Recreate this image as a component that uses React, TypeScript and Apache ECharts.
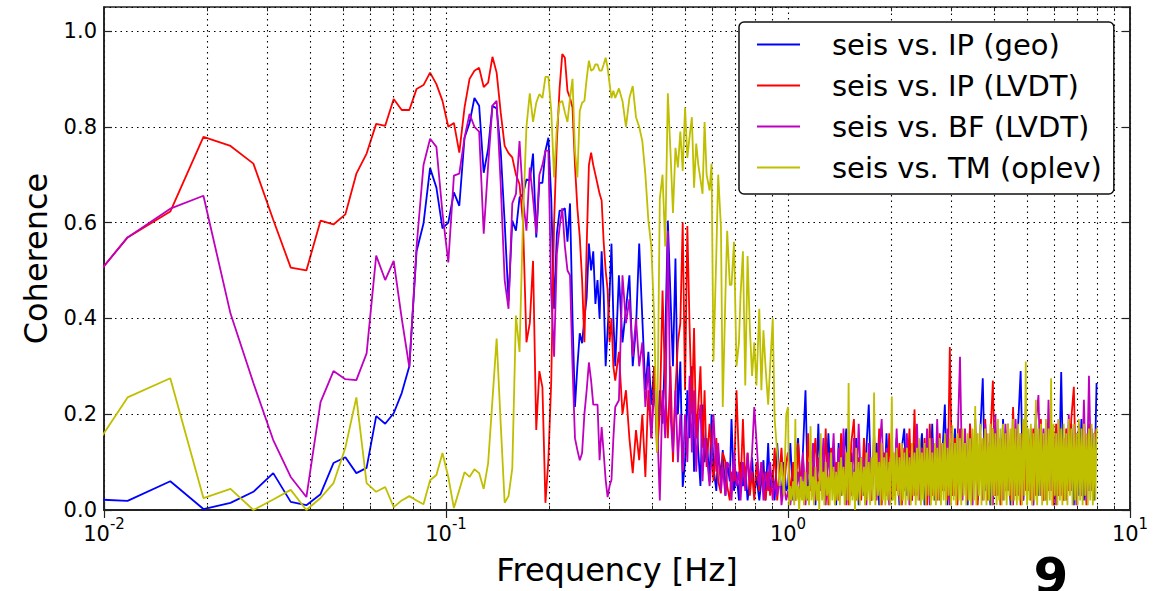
import React, { useEffect, useRef } from "react";
import * as echarts from "echarts";

// ---------- data (frequency bins k -> f = k / 256 Hz) ----------
const names = ["seis vs. IP (geo)", "seis vs. IP (LVDT)", "seis vs. BF (LVDT)", "seis vs. TM (oplev)"];
const colors = ["#0000ff", "#ff0000", "#bf00bf", "#bfbf00"];

const binsA = [2, 3, 4, 5, 6, 7, 8, 9, 10, 11,
  12, 13, 14, 15, 16, 17, 18, 19, 20, 21,
  22, 23, 24, 25, 26, 27, 28, 29, 30, 31,
  32, 33, 34, 35, 36, 37, 38, 39, 40, 41,
  42, 43, 44, 45, 46, 47, 48, 49, 50];
const geoA = [0.025, 0.019, 0.060, 0.002, 0.015, 0.038, 0.077, 0.017, 0.010, 0.033,
  0.098, 0.110, 0.077, 0.088, 0.196, 0.180, 0.202, 0.244, 0.300, 0.540,
  0.598, 0.714, 0.673, 0.588, 0.600, 0.663, 0.635, 0.777, 0.808, 0.860,
  0.844, 0.704, 0.754, 0.844, 0.838, 0.750, 0.600, 0.437, 0.604, 0.583,
  0.652, 0.660, 0.690, 0.688, 0.744, 0.569, 0.683, 0.683, 0.750];
const ipA = [0.416, 0.569, 0.623, 0.779, 0.760, 0.723, 0.606, 0.506, 0.500, 0.604,
  0.596, 0.617, 0.702, 0.744, 0.806, 0.802, 0.858, 0.835, 0.835, 0.879,
  0.887, 0.913, 0.889, 0.854, 0.800, 0.808, 0.746, 0.840, 0.900, 0.917,
  0.923, 0.883, 0.892, 0.946, 0.913, 0.830, 0.760, 0.745, 0.736, 0.700,
  0.680, 0.600, 0.350, 0.390, 0.520, 0.167, 0.290, 0.256, 0.015];
const bfA = [0.416, 0.569, 0.629, 0.656, 0.410, 0.265, 0.146, 0.069, 0.027, 0.225,
  0.290, 0.273, 0.271, 0.327, 0.531, 0.480, 0.520, 0.400, 0.298, 0.550,
  0.720, 0.775, 0.758, 0.620, 0.517, 0.698, 0.702, 0.777, 0.827, 0.800,
  0.790, 0.577, 0.720, 0.844, 0.854, 0.680, 0.480, 0.420, 0.640, 0.660,
  0.770, 0.650, 0.583, 0.715, 0.650, 0.577, 0.700, 0.720, 0.750];
const tmA = [0.045, 0.235, 0.275, 0.025, 0.044, 0.000, 0.022, 0.042, 0.000, 0.025,
  0.056, 0.130, 0.235, 0.056, 0.038, 0.048, 0.006, 0.020, 0.029, 0.020,
  0.012, 0.062, 0.073, 0.119, 0.069, 0.004, 0.042, 0.079, 0.069, 0.085,
  0.077, 0.044, 0.098, 0.230, 0.358, 0.180, 0.015, 0.029, 0.087, 0.406,
  0.330, 0.610, 0.800, 0.870, 0.810, 0.850, 0.868, 0.860, 0.904];

const binsB = [51, 52, 53, 54, 55, 56, 57, 58, 59, 60,
  61, 62, 63, 64, 65, 66, 67, 68, 69, 70,
  71, 72, 73, 74, 75, 76, 77, 78, 79, 80,
  82, 84, 86, 88, 90, 92, 94, 96, 98, 100,
  102, 104, 106, 108, 110, 112, 114, 116, 118, 120,
  122, 124, 126];
const geoB = [0.777, 0.650, 0.420, 0.577, 0.625, 0.625, 0.630, 0.560, 0.640, 0.400,
  0.215, 0.300, 0.369, 0.348, 0.400, 0.444, 0.556, 0.500, 0.540, 0.430,
  0.480, 0.400, 0.540, 0.450, 0.300, 0.375, 0.450, 0.556, 0.400, 0.300,
  0.490, 0.350, 0.420, 0.490, 0.300, 0.380, 0.556, 0.400, 0.250, 0.330,
  0.220, 0.300, 0.150, 0.250, 0.180, 0.350, 0.604, 0.450, 0.300, 0.525,
  0.200, 0.310, 0.048];
const ipB = [0.104, 0.270, 0.600, 0.770, 0.880, 0.952, 0.944, 0.875, 0.860, 0.840,
  0.720, 0.630, 0.570, 0.480, 0.350, 0.550, 0.720, 0.746, 0.720, 0.700,
  0.680, 0.660, 0.646, 0.560, 0.500, 0.460, 0.350, 0.400, 0.300, 0.270,
  0.330, 0.200, 0.250, 0.150, 0.077, 0.167, 0.104, 0.200, 0.069, 0.250,
  0.150, 0.300, 0.120, 0.200, 0.458, 0.250, 0.150, 0.300, 0.100, 0.250,
  0.350, 0.390, 0.600];
const bfB = [0.750, 0.450, 0.320, 0.535, 0.590, 0.630, 0.550, 0.500, 0.490, 0.300,
  0.150, 0.125, 0.104, 0.119, 0.200, 0.250, 0.308, 0.270, 0.220, 0.220,
  0.220, 0.104, 0.173, 0.120, 0.063, 0.027, 0.050, 0.063, 0.150, 0.215,
  0.229, 0.490, 0.390, 0.440, 0.320, 0.400, 0.300, 0.350, 0.215, 0.300,
  0.150, 0.250, 0.190, 0.020, 0.250, 0.150, 0.583, 0.200, 0.120, 0.250,
  0.100, 0.200, 0.080];
const tmB = [0.904, 0.833, 0.694, 0.800, 0.850, 0.854, 0.830, 0.810, 0.860, 0.900,
  0.750, 0.694, 0.833, 0.850, 0.854, 0.900, 0.938, 0.917, 0.920, 0.930,
  0.930, 0.917, 0.917, 0.930, 0.944, 0.923, 0.890, 0.860, 0.875, 0.860,
  0.880, 0.854, 0.800, 0.860, 0.885, 0.820, 0.800, 0.770, 0.700, 0.604,
  0.550, 0.400, 0.120, 0.650, 0.700, 0.550, 0.870, 0.750, 0.620, 0.756,
  0.715, 0.790, 0.708];

const binsD = [128, 130, 132, 134, 136, 138, 140, 142, 144, 146,
  148, 151, 153, 155, 158, 160, 163, 165, 168, 170,
  173, 175, 178, 181, 184, 186, 189, 192, 195, 198,
  201, 204, 207, 211, 214, 217, 220, 224, 227, 231,
  234, 238, 242, 245, 249, 253];
const geoD = [0.10, 0.25, 0.15, 0.30, 0.08, 0.20, 0.12, 0.05, 0.22, 0.10,
  0.15, 0.06, 0.20, 0.09, 0.04, 0.12, 0.07, 0.125, 0.03, 0.10,
  0.06, 0.19, 0.04, 0.08, 0.02, 0.10, 0.05, 0.09, 0.02, 0.06,
  0.11, 0.03, 0.07, 0.02, 0.06, 0.104, 0.02, 0.14, 0.04, 0.08,
  0.02, 0.14, 0.06, 0.03, 0.10, 0.04];
const ipD = [0.25, 0.593, 0.38, 0.20, 0.38, 0.15, 0.22, 0.30, 0.13, 0.25,
  0.09, 0.18, 0.12, 0.06, 0.15, 0.06, 0.035, 0.12, 0.10, 0.05,
  0.02, 0.08, 0.06, 0.25, 0.10, 0.045, 0.19, 0.05, 0.12, 0.03,
  0.08, 0.02, 0.10, 0.04, 0.10, 0.06, 0.02, 0.08, 0.03, 0.06,
  0.13, 0.02, 0.08, 0.13, 0.04, 0.10];
const bfD = [0.20, 0.10, 0.28, 0.12, 0.25, 0.08, 0.18, 0.22, 0.06, 0.15,
  0.12, 0.05, 0.104, 0.20, 0.08, 0.14, 0.04, 0.09, 0.03, 0.10,
  0.09, 0.02, 0.12, 0.05, 0.08, 0.02, 0.10, 0.04, 0.119, 0.06,
  0.12, 0.215, 0.146, 0.05, 0.10, 0.02, 0.08, 0.04, 0.10, 0.02,
  0.06, 0.03, 0.08, 0.01, 0.05, 0.02];
const tmD = [0.84, 0.735, 0.78, 0.82, 0.673, 0.765, 0.72, 0.69, 0.66, 0.81,
  0.70, 0.667, 0.723, 0.31, 0.535, 0.70, 0.59, 0.215, 0.45, 0.583,
  0.47, 0.47, 0.56, 0.30, 0.35, 0.45, 0.54, 0.26, 0.53, 0.38,
  0.28, 0.35, 0.26, 0.42, 0.25, 0.375, 0.30, 0.22, 0.30, 0.40,
  0.19, 0.12, 0.05, 0.10, 0.03, 0.20];

const binsE = [256, 260, 265, 269, 274, 279, 283, 288, 293, 298,
  303, 308, 314, 319, 325, 330, 336, 342, 348, 354,
  360, 366, 372, 379, 385, 392, 399, 405, 412, 419,
  427, 434, 441, 449, 457, 465, 473, 481, 489, 497,
  506, 515, 523, 532, 542, 551, 560, 570, 580, 590,
  600, 610, 621, 631, 642, 653, 665, 676, 688, 699,
  711, 724, 736, 749, 761, 774, 788, 801, 815, 829,
  843, 858, 872, 887, 903, 918, 934, 950, 966, 983,
  1000, 1017, 1034, 1052, 1070, 1089, 1107, 1126, 1146, 1165,
  1185, 1206, 1226, 1248, 1269, 1291, 1313, 1335, 1358, 1382,
  1405, 1430, 1454, 1479, 1505, 1530, 1557, 1583, 1611, 1638,
  1666, 1695, 1724, 1754, 1784, 1814, 1846, 1877, 1910, 1942,
  1976, 2010, 2044];
const geoE = [0.05, 0.14, 0.02, 0.10, 0.15, 0.03, 0.12, 0.25, 0.02, 0.09,
  0.13, 0.01, 0.18, 0.04, 0.11, 0.02, 0.16, 0.05, 0.12, 0.01,
  0.14, 0.03, 0.10, 0.17, 0.02, 0.12, 0.04, 0.15, 0.01, 0.11,
  0.03, 0.13, 0.22, 0.02, 0.10, 0.14, 0.01, 0.12, 0.04, 0.16,
  0.02, 0.11, 0.05, 0.15, 0.01, 0.13, 0.17, 0.03, 0.12, 0.02,
  0.14, 0.04, 0.11, 0.16, 0.01, 0.13, 0.03, 0.18, 0.02, 0.15,
  0.04, 0.12, 0.22, 0.01, 0.14, 0.03, 0.17, 0.02, 0.12, 0.05,
  0.15, 0.01, 0.18, 0.03, 0.13, 0.02, 0.16, 0.275, 0.04, 0.14,
  0.01, 0.17, 0.03, 0.15, 0.02, 0.19, 0.04, 0.13, 0.01, 0.16,
  0.03, 0.18, 0.29, 0.02, 0.15, 0.04, 0.17, 0.01, 0.20, 0.03,
  0.16, 0.02, 0.18, 0.04, 0.14, 0.01, 0.17, 0.03, 0.288, 0.02,
  0.15, 0.04, 0.18, 0.01, 0.16, 0.03, 0.19, 0.02, 0.14, 0.04,
  0.17, 0.02, 0.265];
const ipE = [0.12, 0.03, 0.10, 0.02, 0.14, 0.05, 0.11, 0.02, 0.16, 0.04,
  0.09, 0.15, 0.02, 0.12, 0.04, 0.17, 0.01, 0.13, 0.05, 0.10,
  0.02, 0.16, 0.04, 0.12, 0.01, 0.14, 0.19, 0.03, 0.11, 0.02,
  0.15, 0.04, 0.10, 0.02, 0.13, 0.05, 0.17, 0.01, 0.12, 0.03,
  0.16, 0.02, 0.11, 0.04, 0.14, 0.01, 0.13, 0.05, 0.17, 0.02,
  0.21, 0.03, 0.12, 0.04, 0.15, 0.01, 0.18, 0.03, 0.13, 0.02,
  0.16, 0.04, 0.12, 0.02, 0.34, 0.03, 0.15, 0.01, 0.17, 0.04,
  0.13, 0.02, 0.18, 0.04, 0.14, 0.01, 0.16, 0.03, 0.19, 0.02,
  0.15, 0.27, 0.03, 0.17, 0.01, 0.14, 0.04, 0.18, 0.02, 0.215,
  0.03, 0.16, 0.01, 0.18, 0.04, 0.15, 0.02, 0.17, 0.03, 0.13,
  0.19, 0.02, 0.16, 0.04, 0.14, 0.01, 0.18, 0.03, 0.15, 0.02,
  0.17, 0.04, 0.19, 0.257, 0.02, 0.16, 0.03, 0.14, 0.01, 0.18,
  0.04, 0.15, 0.17];
const bfE = [0.04, 0.01, 0.06, 0.02, 0.08, 0.03, 0.12, 0.01, 0.10, 0.05,
  0.14, 0.02, 0.11, 0.04, 0.15, 0.01, 0.12, 0.05, 0.16, 0.02,
  0.13, 0.04, 0.17, 0.01, 0.12, 0.03, 0.15, 0.02, 0.18, 0.04,
  0.11, 0.01, 0.14, 0.03, 0.16, 0.02, 0.12, 0.19, 0.04, 0.13,
  0.01, 0.15, 0.03, 0.17, 0.02, 0.12, 0.04, 0.16, 0.01, 0.14,
  0.03, 0.18, 0.02, 0.13, 0.05, 0.17, 0.01, 0.15, 0.03, 0.19,
  0.02, 0.14, 0.04, 0.17, 0.01, 0.16, 0.03, 0.13, 0.32, 0.02,
  0.17, 0.04, 0.15, 0.01, 0.19, 0.03, 0.14, 0.02, 0.18, 0.04,
  0.16, 0.01, 0.20, 0.03, 0.15, 0.02, 0.18, 0.04, 0.14, 0.01,
  0.19, 0.03, 0.16, 0.02, 0.21, 0.04, 0.15, 0.01, 0.18, 0.24,
  0.03, 0.17, 0.02, 0.23, 0.04, 0.16, 0.01, 0.19, 0.03, 0.15,
  0.02, 0.20, 0.04, 0.17, 0.01, 0.18, 0.03, 0.23, 0.02, 0.28,
  0.04, 0.16, 0.14];

// oplev is read on a finer grid above 1 Hz (it forms the dense yellow band)
const binsEY = [256, 258, 260, 262, 265, 267, 269, 271, 274, 276, 279, 281, 283, 285, 288, 290, 293, 295, 298, 300,
  303, 305, 308, 311, 314, 316, 319, 322, 325, 327, 330, 333, 336, 339, 342, 345, 348, 351, 354, 357,
  360, 363, 366, 369, 372, 375, 379, 382, 385, 388, 392, 395, 399, 402, 405, 408, 412, 415, 419, 423,
  427, 430, 434, 437, 441, 445, 449, 453, 457, 461, 465, 469, 473, 477, 481, 485, 489, 493, 497, 501,
  506, 510, 515, 519, 523, 527, 532, 537, 542, 546, 551, 555, 560, 565, 570, 575, 580, 585, 590, 595,
  600, 605, 610, 615, 621, 626, 631, 636, 642, 647, 653, 659, 665, 670, 676, 682, 688, 693, 699, 705,
  711, 717, 724, 730, 736, 742, 749, 755, 761, 767, 774, 781, 788, 794, 801, 808, 815, 822, 829, 836,
  843, 850, 858, 865, 872, 879, 887, 895, 903, 910, 918, 926, 934, 942, 950, 958, 966, 974, 983, 991,
  1000, 1008, 1017, 1025, 1034, 1043, 1052, 1061, 1070, 1079, 1089, 1098, 1107, 1116, 1126, 1136, 1146, 1155, 1165, 1175,
  1185, 1195, 1206, 1216, 1226, 1237, 1248, 1258, 1269, 1280, 1291, 1302, 1313, 1324, 1335, 1346, 1358, 1370, 1382, 1393,
  1405, 1417, 1430, 1442, 1454, 1466, 1479, 1492, 1505, 1517, 1530, 1543, 1557, 1570, 1583, 1597, 1611, 1624, 1638, 1652,
  1666, 1680, 1695, 1709, 1724, 1739, 1754, 1769, 1784, 1799, 1814, 1830, 1846, 1861, 1877, 1893, 1910, 1926, 1942, 1959,
  1976, 1993, 2010, 2027, 2044];
const tmE = [0.215, 0.01, 0.05, 0.02, 0.06, 0.01, 0.19, 0.02, 0.05, 0.00, 0.07, 0.02, 0.06, 0.01, 0.08, 0.02, 0.05, 0.01, 0.175, 0.02,
  0.07, 0.01, 0.09, 0.02, 0.06, 0.00, 0.16, 0.02, 0.08, 0.01, 0.10, 0.03, 0.07, 0.01, 0.12, 0.02, 0.09, 0.01, 0.08, 0.02,
  0.10, 0.01, 0.11, 0.03, 0.09, 0.01, 0.12, 0.02, 0.265, 0.01, 0.10, 0.02, 0.08, 0.00, 0.13, 0.02, 0.10, 0.01, 0.11, 0.03,
  0.09, 0.01, 0.12, 0.02, 0.10, 0.01, 0.11, 0.02, 0.245, 0.01, 0.12, 0.03, 0.10, 0.01, 0.14, 0.02, 0.11, 0.01, 0.12, 0.02,
  0.10, 0.01, 0.237, 0.02, 0.12, 0.01, 0.13, 0.03, 0.11, 0.01, 0.14, 0.02, 0.12, 0.01, 0.13, 0.02, 0.11, 0.01, 0.14, 0.03,
  0.12, 0.01, 0.13, 0.02, 0.15, 0.01, 0.12, 0.02, 0.14, 0.01, 0.13, 0.03, 0.15, 0.01, 0.12, 0.02, 0.14, 0.01, 0.13, 0.02,
  0.15, 0.01, 0.14, 0.02, 0.16, 0.01, 0.13, 0.03, 0.15, 0.01, 0.177, 0.02, 0.14, 0.01, 0.16, 0.02, 0.15, 0.01, 0.17, 0.03,
  0.14, 0.01, 0.16, 0.02, 0.15, 0.01, 0.17, 0.02, 0.217, 0.01, 0.16, 0.03, 0.18, 0.01, 0.15, 0.02, 0.17, 0.01, 0.16, 0.02,
  0.18, 0.01, 0.17, 0.03, 0.16, 0.01, 0.19, 0.02, 0.17, 0.01, 0.18, 0.02, 0.16, 0.01, 0.18, 0.03, 0.17, 0.01, 0.19, 0.02,
  0.17, 0.01, 0.18, 0.02, 0.16, 0.01, 0.19, 0.03, 0.31, 0.01, 0.17, 0.02, 0.18, 0.01, 0.16, 0.02, 0.23, 0.01, 0.17, 0.03,
  0.18, 0.01, 0.16, 0.02, 0.19, 0.01, 0.17, 0.02, 0.275, 0.01, 0.18, 0.03, 0.16, 0.01, 0.19, 0.02, 0.17, 0.01, 0.18, 0.02,
  0.16, 0.01, 0.19, 0.03, 0.17, 0.01, 0.18, 0.02, 0.16, 0.01, 0.19, 0.02, 0.17, 0.01, 0.18, 0.03, 0.16, 0.01, 0.17, 0.02,
  0.18, 0.01, 0.16, 0.02, 0.17];

const yTicks = [0, 0.2, 0.4, 0.6, 0.8, 1.0];
const minorMultipliers = [2, 3, 4, 5, 6, 7, 8, 9];
const decades = [0.01, 0.1, 1];

// ---------- helpers ----------
const seg = (bins: number[], vals: number[]) => {
  const n = Math.min(bins.length, vals.length);
  const out: number[][] = [];
  for (let i = 0; i < n; i++) out.push([bins[i] / 256, vals[i]]);
  return out;
};
const seriesValues = [
  [...seg(binsA, geoA), ...seg(binsB, geoB), ...seg(binsD, geoD), ...seg(binsE, geoE)],
  [...seg(binsA, ipA), ...seg(binsB, ipB), ...seg(binsD, ipD), ...seg(binsE, ipE)],
  [...seg(binsA, bfA), ...seg(binsB, bfB), ...seg(binsD, bfD), ...seg(binsE, bfE)],
  [...seg(binsA, tmA), ...seg(binsB, tmB), ...seg(binsD, tmD), ...seg(binsEY, tmE)],
];

const FONT = "DejaVu Sans";
const dotted = { color: "#000", width: 1.1, type: [1.5, 4] as number[] };
const Y_MAX = 1.05;
const MINOR_TICK = 0.009; // in y units (~4 px)

export default function App() {
  const ref = useRef<HTMLDivElement>(null);
  useEffect(() => {
    const chart = echarts.init(ref.current!, null, { renderer: "svg" });
    const minorX: number[] = [];
    decades.forEach((d) => minorMultipliers.forEach((m) => minorX.push(+(d * m).toPrecision(3))));
    const minorTickLines: any[] = [];
    minorX.forEach((v) => {
      minorTickLines.push([{ coord: [v, 0] }, { coord: [v, MINOR_TICK] }]);
      minorTickLines.push([{ coord: [v, Y_MAX] }, { coord: [v, Y_MAX - MINOR_TICK] }]);
    });
    const logLabel = (v: number) => {
      const e = Math.round(Math.log10(v));
      return `{b|10}{s|${e}}`;
    };
    const axisTick = { show: true, inside: true, length: 8, lineStyle: { color: "#222", width: 1.2 } };
    const axisLine = { show: true, lineStyle: { color: "#222", width: 1.6 } };
    const option: any = {
      animation: false,
      backgroundColor: "#fff",
      textStyle: { fontFamily: FONT },
      grid: { left: 104, top: 7, right: 41, bottom: 81, show: true, borderColor: "#222", borderWidth: 1.6, backgroundColor: "transparent" },
      legend: {
        orient: "vertical",
        left: 739,
        top: 22,
        padding: [8, 12, 12, 18],
        itemWidth: 43,
        itemHeight: 2,
        itemGap: 12,
        icon: "rect",
        backgroundColor: "#fff",
        borderColor: "#111",
        borderWidth: 1.5,
        borderRadius: 5,
        textStyle: { fontSize: 29, lineHeight: 29, fontFamily: FONT, color: "#000", padding: [0, 0, 0, 27] },
        data: names,
        selectedMode: false,
        z: 10,
      },
      xAxis: [
        {
          type: "log",
          logBase: 10,
          min: 0.01,
          max: 10,
          axisLine,
          axisTick,
          axisLabel: {
            margin: 6,
            formatter: logLabel,
            rich: {
              b: { fontSize: 21, fontFamily: FONT, color: "#000", padding: [7, 0, 0, 0], verticalAlign: "bottom" },
              s: { fontSize: 15, fontFamily: FONT, color: "#000", verticalAlign: "top" },
            },
          },
          splitLine: { show: true, lineStyle: dotted },
          name: "Frequency [Hz]",
          nameLocation: "middle",
          nameGap: 44,
          nameTextStyle: { fontSize: 32, fontFamily: FONT, color: "#000" },
        },
        {
          type: "log",
          logBase: 10,
          min: 0.01,
          max: 10,
          position: "top",
          axisLine,
          axisTick,
          axisLabel: { show: false },
          splitLine: { show: false },
        },
      ],
      yAxis: [
        {
          type: "value",
          min: 0,
          max: Y_MAX,
          interval: 0.2,
          axisLine,
          axisTick,
          axisLabel: {
            margin: 7,
            fontSize: 21,
            fontFamily: FONT,
            color: "#000",
            showMaxLabel: false,
            formatter: (v: number) => (yTicks.some((t) => Math.abs(t - v) < 1e-6) ? v.toFixed(1) : ""),
          },
          splitLine: { show: true, lineStyle: dotted },
          name: "Coherence",
          nameLocation: "middle",
          nameGap: 52,
          nameTextStyle: { fontSize: 32, fontFamily: FONT, color: "#000" },
        },
        {
          type: "value",
          min: 0,
          max: Y_MAX,
          interval: 0.2,
          position: "right",
          axisLine,
          axisTick,
          axisLabel: { show: false },
          splitLine: { show: false },
        },
      ],
      series: [
        {
          type: "line",
          name: "_grid",
          data: [[0.01, 0]],
          symbol: "none",
          lineStyle: { opacity: 0 },
          silent: true,
          z: 1,
          markLine: {
            silent: true,
            symbol: ["none", "none"],
            label: { show: false },
            lineStyle: dotted,
            data: minorX.map((v) => ({ xAxis: v })),
          },
        },
        {
          type: "line",
          name: "_ticks",
          data: [[0.01, 0]],
          symbol: "none",
          lineStyle: { opacity: 0 },
          silent: true,
          z: 8,
          markLine: {
            silent: true,
            symbol: ["none", "none"],
            label: { show: false },
            lineStyle: { color: "#222", width: 1, type: "solid" },
            data: minorTickLines,
          },
        },
        ...names.map((n, i) => ({
          type: "line",
          name: n,
          data: seriesValues[i],
          symbol: "none",
          showSymbol: false,
          clip: true,
          color: colors[i],
          lineStyle: { color: colors[i], width: 1.8 },
          z: 3 + i,
        })),
      ],
      graphic: [
        {
          type: "text",
          z: 20,
          style: {
            text: "9",
            x: 1051,
            y: 576,
            align: "center",
            verticalAlign: "middle",
            font: `bold 50px "${FONT}"`,
            fill: "#000",
          },
        },
      ],
    };
    chart.setOption(option);
    return () => chart.dispose();
  }, []);
  return <div ref={ref} style={{ position: "absolute", left: 0, top: 0, width: 1171, height: 591, background: "#fff" }} />;
}
